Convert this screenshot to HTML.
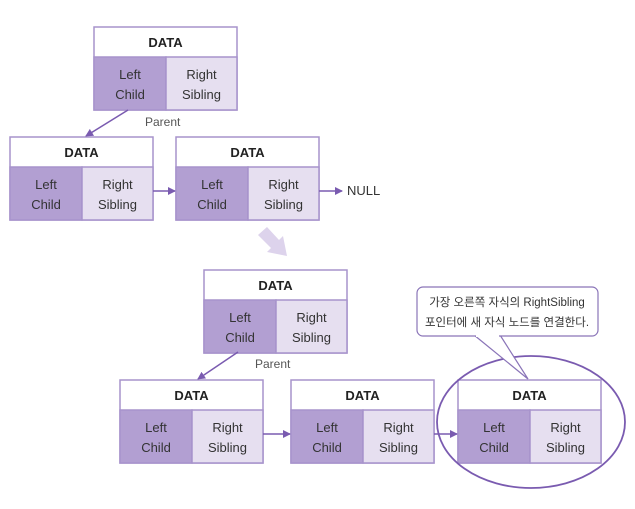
<!DOCTYPE html><html><head><meta charset="utf-8"><style>
body{margin:0;background:#fff;width:635px;height:504px;overflow:hidden;font-family:"Liberation Sans","Noto Sans CJK KR",sans-serif}
</style></head><body>
<svg width="635" height="504" xmlns="http://www.w3.org/2000/svg" font-family="Liberation Sans, Noto Sans CJK KR, sans-serif">
<defs>
<marker id="a" markerWidth="8" markerHeight="8" refX="7" refY="4" orient="auto" markerUnits="userSpaceOnUse"><path d="M0,0 L8,4 L0,8z" fill="#7a5bb0"/></marker>
<g id="n">
<rect x="0" y="0" width="143" height="83" fill="#fff" stroke="#a793cc" stroke-width="1.5"/>
<rect x="0" y="30" width="72" height="53" fill="#b29fd2" stroke="#a793cc" stroke-width="1.5"/>
<rect x="72" y="30" width="71" height="53" fill="#e6dff0" stroke="#a793cc" stroke-width="1.5"/>
<text x="71.5" y="20" text-anchor="middle" font-size="13" font-weight="bold" fill="#222">DATA</text>
<text x="36" y="52" text-anchor="middle" font-size="13" fill="#333">Left</text>
<text x="36" y="72" text-anchor="middle" font-size="13" fill="#333">Child</text>
<text x="107.5" y="52" text-anchor="middle" font-size="13" fill="#333">Right</text>
<text x="107.5" y="72" text-anchor="middle" font-size="13" fill="#333">Sibling</text>
</g>
</defs>
<use href="#n" x="94" y="27"/>
<use href="#n" x="10" y="137"/>
<use href="#n" x="176" y="137"/>
<line x1="128" y1="110" x2="86" y2="136" stroke="#7a5bb0" stroke-width="1.5" marker-end="url(#a)"/>
<text x="145" y="126" font-size="12" fill="#555">Parent</text>
<line x1="153" y1="191" x2="175" y2="191" stroke="#7a5bb0" stroke-width="1.5" marker-end="url(#a)"/>
<line x1="319" y1="191" x2="342" y2="191" stroke="#7a5bb0" stroke-width="1.5" marker-end="url(#a)"/>
<text x="347" y="195" font-size="13" fill="#333">NULL</text>
<path d="M258,235 L267,227 L279,240 L283,236 L287,256 L267,252 L271,248 Z" fill="#ddd3ec"/>
<use href="#n" x="204" y="270"/>
<use href="#n" x="120" y="380"/>
<use href="#n" x="291" y="380"/>
<use href="#n" x="458" y="380"/>
<line x1="238" y1="352" x2="198" y2="379" stroke="#7a5bb0" stroke-width="1.5" marker-end="url(#a)"/>
<text x="255" y="368" font-size="12" fill="#555">Parent</text>
<line x1="263" y1="434" x2="290" y2="434" stroke="#7a5bb0" stroke-width="1.5" marker-end="url(#a)"/>
<line x1="434" y1="434" x2="457" y2="434" stroke="#7a5bb0" stroke-width="1.5" marker-end="url(#a)"/>
<ellipse cx="531" cy="422" rx="94" ry="66" fill="none" stroke="#7a5bb0" stroke-width="1.8"/>
<path d="M474,335 L528,379 L500,335" fill="#fff" stroke="#8a74b8" stroke-width="1.2"/>
<rect x="417" y="287" width="181" height="49" rx="6" fill="#fff" stroke="#8a74b8" stroke-width="1.2"/>
<rect x="476" y="333" width="23" height="4" fill="#fff"/>
<text x="507" y="306" text-anchor="middle" font-size="11.5" fill="#333">가장 오른쪽 자식의 RightSibling</text>
<text x="507" y="326" text-anchor="middle" font-size="11.5" fill="#333">포인터에 새 자식 노드를 연결한다.</text>
</svg>
</body></html>
